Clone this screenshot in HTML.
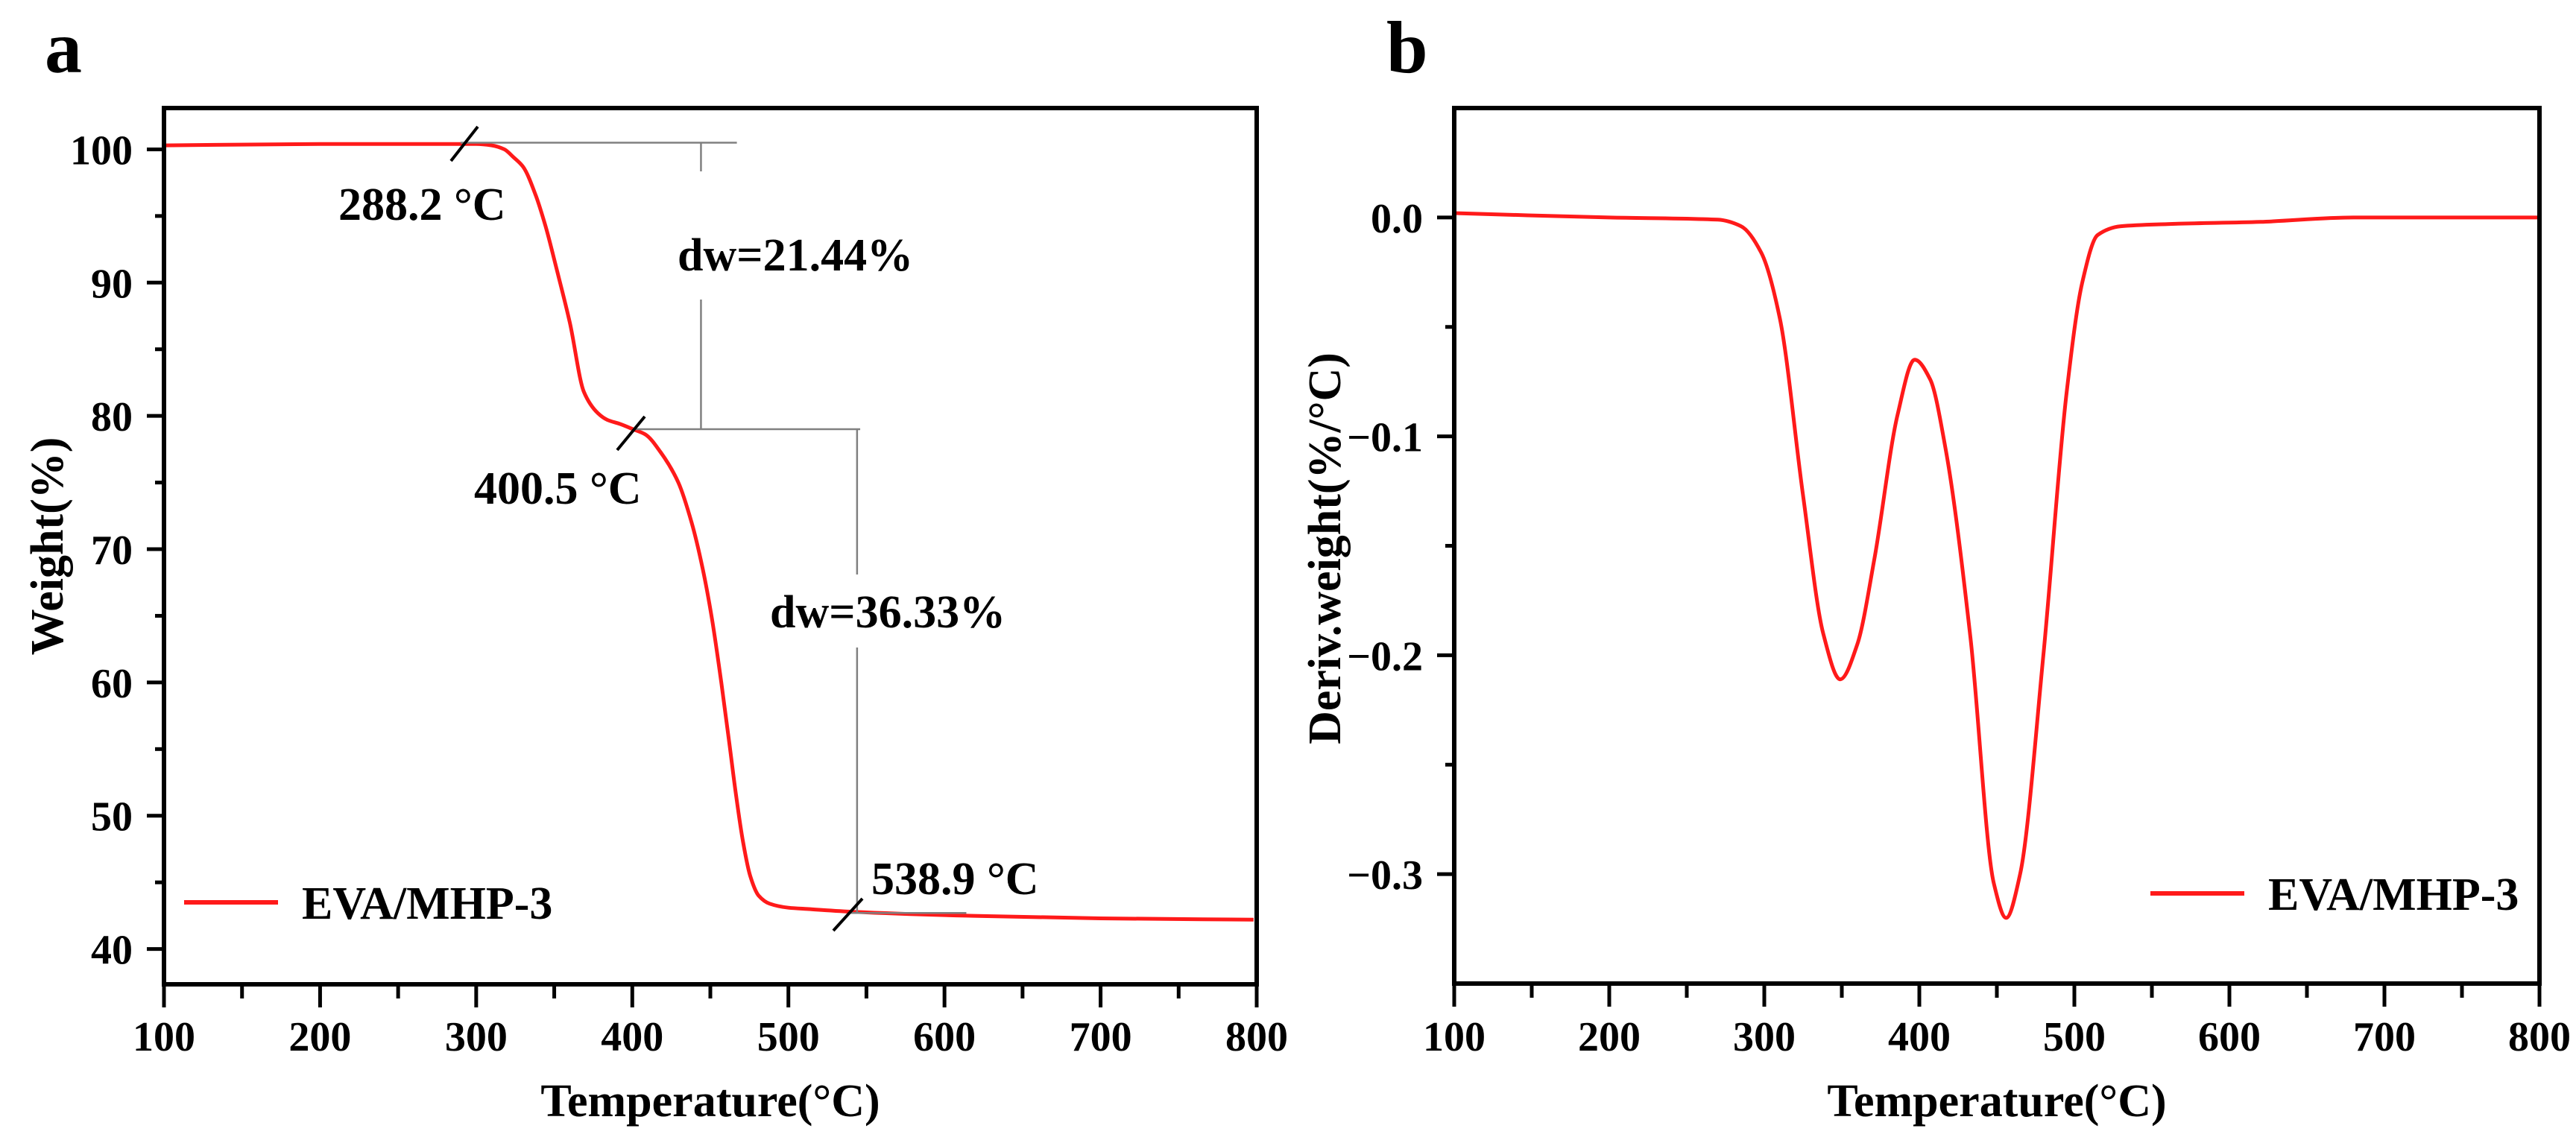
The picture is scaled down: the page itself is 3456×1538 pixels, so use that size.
<!DOCTYPE html>
<html><head><meta charset="utf-8"><style>
html,body{margin:0;padding:0;background:#fff;}
svg{display:block;font-family:"Liberation Serif","Times New Roman",serif;font-weight:bold;}
</style></head><body>
<svg id="fig" width="3456" height="1538" viewBox="0 0 3456 1538" xmlns="http://www.w3.org/2000/svg">
<rect width="3456" height="1538" fill="#fff"/>
<g id="pa"></g>
<g id="pb"></g>
</svg>
<script>
// Panel a (TGA) data
const tgaTemps  = [100, 200, 300, 310, 318, 324, 330, 338, 344.5, 352, 360, 369, 378, 384, 392, 400.5, 408.5, 418, 429.5, 438, 445, 451, 457, 462, 466.5, 471, 475.5, 481, 488, 500, 512, 540, 614, 700, 798];
const tgaWeight = [100.3, 100.4, 100.4, 100.3, 100.0, 99.4, 98.7, 96.6, 94.2, 90.8, 87.0, 81.8, 80.2, 79.7, 79.4, 79.0, 78.6, 77.3, 75.0, 72.0, 68.6, 64.8, 60.0, 55.6, 51.5, 48.0, 45.5, 44.0, 43.4, 43.1, 43.0, 42.8, 42.5, 42.3, 42.2];
const tgaYTicks = [40, 50, 60, 70, 80, 90, 100];
const xTicks = [100, 200, 300, 400, 500, 600, 700, 800];
// Panel b (DTG) data
const dtgTemps = [100, 200, 270, 285, 298, 310, 325, 338, 349, 360, 371, 386, 397, 407, 417, 433, 448, 456, 465, 480, 495, 505, 515, 530, 560, 620, 680, 800];
const dtgDeriv = [0.002, 0.0, -0.001, -0.004, -0.016, -0.046, -0.127, -0.19, -0.211, -0.195, -0.156, -0.09, -0.065, -0.074, -0.106, -0.192, -0.304, -0.32, -0.30, -0.2, -0.08, -0.03, -0.008, -0.004, -0.003, -0.002, 0.0, 0.0];
const dtgYTicks = [0.0, -0.1, -0.2, -0.3];
const dtgYTickLabels = ["0.0", "\u22120.1", "\u22120.2", "\u22120.3"];
const legendLabel = "EVA/MHP-3";

const NS = "http://www.w3.org/2000/svg";
function mk(parent, tag, attrs, text) {
  const e = document.createElementNS(NS, tag);
  for (const k in attrs) e.setAttribute(k, attrs[k]);
  if (text !== undefined) e.textContent = text;
  parent.appendChild(e);
  return e;
}
function smoothPath(pts) {
  const n = pts.length, dx = [], m = [], s = [];
  for (let i = 0; i < n - 1; i++) { dx[i] = pts[i+1][0] - pts[i][0]; s[i] = (pts[i+1][1] - pts[i][1]) / dx[i]; }
  m[0] = s[0]; m[n-1] = s[n-2];
  for (let i = 1; i < n - 1; i++) {
    if (s[i-1] * s[i] <= 0) m[i] = 0;
    else { const w1 = 2*dx[i] + dx[i-1], w2 = dx[i] + 2*dx[i-1]; m[i] = (w1 + w2) / (w1 / s[i-1] + w2 / s[i]); }
  }
  let d = "M" + pts[0][0].toFixed(1) + "," + pts[0][1].toFixed(1);
  for (let i = 0; i < n - 1; i++) {
    const h = dx[i] / 3;
    d += " C" + (pts[i][0] + h).toFixed(1) + "," + (pts[i][1] + m[i]*h).toFixed(1) + " " +
         (pts[i+1][0] - h).toFixed(1) + "," + (pts[i+1][1] - m[i+1]*h).toFixed(1) + " " +
         pts[i+1][0].toFixed(1) + "," + pts[i+1][1].toFixed(1);
  }
  return d;
}

function drawPanel(g, o) {
  const X = t => o.x0 + (t - 100) / 700 * (o.x1 - o.x0);
  const Y = v => o.y0 + (o.vmax - v) / (o.vmax - o.vmin) * (o.y1 - o.y0);
  for (let i = 0; i < xTicks.length; i++) {
    const t = xTicks[i];
    const tk = mk(g, "line", {x1: X(t), x2: X(t), y1: o.y1, y2: o.y1 + 31, stroke: "#000", "stroke-width": 5});
    
    
    const lb = mk(g, "text", {x: X(t), y: 1410, "font-size": 56, "text-anchor": "middle"}, String(t));
    
    
    if (i < xTicks.length - 1) {
      const mt = mk(g, "line", {x1: X(t + 50), x2: X(t + 50), y1: o.y1, y2: o.y1 + 19, stroke: "#000", "stroke-width": 5});
      
      
    }
  }
  for (let i = 0; i < o.yTicks.length; i++) {
    const v = o.yTicks[i];
    const tk = mk(g, "line", {x1: o.x0 - 23, x2: o.x0, y1: Y(v), y2: Y(v), stroke: "#000", "stroke-width": 5});
    
    
    const lb = mk(g, "text", {x: o.x0 - 42, y: Y(v) + 20, "font-size": 56, "text-anchor": "end"}, o.yLabels[i]);
    
    
    const mv = v + o.minorStep;
    if (mv < o.vmax) {
      const mt = mk(g, "line", {x1: o.x0 - 12, x2: o.x0, y1: Y(mv), y2: Y(mv), stroke: "#000", "stroke-width": 5});
      
      
    }
  }
  const pts = o.tx.map((t, i) => [X(t), Y(o.vy[i])]);
  const cv = mk(g, "path", {d: smoothPath(pts), fill: "none", stroke: "#ff1a1a", "stroke-width": 5, "stroke-linejoin": "round"});
  
  
  const fr = mk(g, "rect", {x: o.x0, y: o.y0, width: o.x1 - o.x0, height: o.y1 - o.y0, fill: "none", stroke: "#000", "stroke-width": 6});
  
  
  const xt = mk(g, "text", {x: (o.x0 + o.x1) / 2, y: 1498, "font-size": 62, "text-anchor": "middle"}, "Temperature(\u00B0C)");
  
  
  const yt = mk(g, "text", {x: 0, y: 0, "font-size": 62, "text-anchor": "middle", transform: "translate(" + (o.ytX) + "," + o.ytY + ") rotate(-90)"}, o.yTitle);
  
  
  const pl = mk(g, "text", {x: o.letterX, y: 97, "font-size": 100}, o.letter);
  
  
  const lg = mk(g, "g", {});
  
  
  mk(lg, "line", {x1: o.legX, x2: o.legX + 126, y1: o.legY, y2: o.legY, stroke: "#ff1a1a", "stroke-width": 6});
  mk(lg, "text", {x: o.legX + 158, y: o.legY + 22, "font-size": 62}, legendLabel);
  return {X, Y};
}

const ga = document.getElementById("pa");
const A = drawPanel(ga, {x0: 220, x1: 1686, y0: 145, y1: 1321, vmin: 37.35, vmax: 103.1,
  yTicks: tgaYTicks, yLabels: tgaYTicks.map(String), minorStep: 5,
  tx: tgaTemps, vy: tgaWeight, yTitle: "Weight(%)", ytX: 84, ytY: 733,
  letter: "a", letterX: 60, legX: 247, legY: 1211});
const gb = document.getElementById("pb");
const B = drawPanel(gb, {x0: 1951, x1: 3407, y0: 145, y1: 1320, vmin: -0.35, vmax: 0.05,
  yTicks: dtgYTicks, yLabels: dtgYTickLabels, minorStep: 0.05,
  tx: dtgTemps, vy: dtgDeriv, yTitle: "Deriv.weight(%/\u00B0C)", ytX: 1798, ytY: 736,
  letter: "b", letterX: 1860, legX: 2885, legY: 1199});

const ann = mk(ga, "g", {stroke: "#808080", "stroke-width": 2.5, fill: "none"});


mk(ann, "line", {x1: A.X(290), x2: A.X(467), y1: A.Y(100.5), y2: A.Y(100.5)});
mk(ann, "line", {x1: A.X(444), x2: A.X(444), y1: A.Y(100.5), y2: 230});
mk(ann, "line", {x1: A.X(444), x2: A.X(444), y1: 402, y2: A.Y(79.0)});
mk(ann, "line", {x1: A.X(400.5), x2: A.X(546), y1: A.Y(79.0), y2: A.Y(79.0)});
mk(ann, "line", {x1: A.X(544), x2: A.X(544), y1: A.Y(79.0), y2: 771});
mk(ann, "line", {x1: A.X(544), x2: A.X(544), y1: 869, y2: A.Y(42.7)});
mk(ann, "line", {x1: A.X(538.9), x2: A.X(614), y1: A.Y(42.7), y2: A.Y(42.7)});
const sl = mk(ga, "g", {stroke: "#000", "stroke-width": 4});


mk(sl, "line", {x1: 605, y1: 216, x2: 641, y2: 170});
mk(sl, "line", {x1: 828, y1: 604, x2: 865, y2: 559});
mk(sl, "line", {x1: 1118, y1: 1249, x2: 1157, y2: 1206});
const labels = [["288.2 \u00B0C", 454, 295, 'onset-label-288'], ["400.5 \u00B0C", 636, 676, 'onset-label-400'],
  ["538.9 \u00B0C", 1169, 1200, 'end-label-538'], ["dw=21.44%", 909, 363, 'dw-label-1'], ["dw=36.33%", 1033, 842, 'dw-label-2']];
for (const L of labels) {
  const t = mk(ga, "text", {x: L[1], y: L[2], "font-size": 62}, L[0]);
  
  
}
</script>
</body></html>
